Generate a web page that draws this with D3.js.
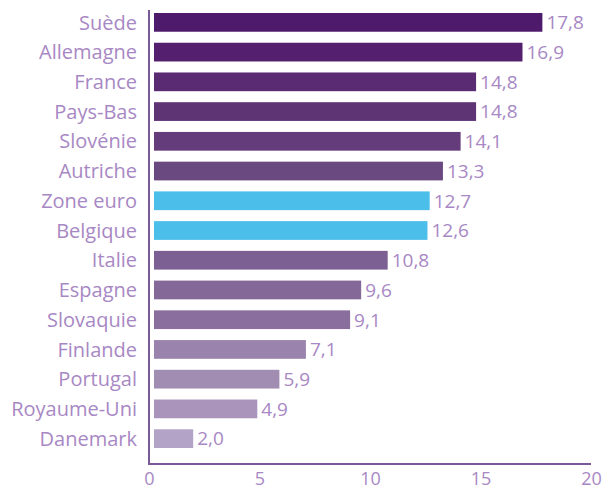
<!DOCTYPE html>
<html>
<head>
<meta charset="utf-8">
<script src="https://cdn.jsdelivr.net/npm/d3@7"></script>
<style>
  body { margin: 0; background: #fff; }
  text { font-family: "Open Sans", "Noto Sans", sans-serif; }
</style>
</head>
<body>
<script>
// Data
const countries = ["Suède", "Allemagne", "France", "Pays-Bas", "Slovénie", "Autriche", "Zone euro",
    "Belgique", "Italie", "Espagne", "Slovaquie", "Finlande", "Portugal", "Royaume-Uni", "Danemark"];
const values = [17.8, 16.9, 14.8, 14.8, 14.1, 13.3, 12.7, 12.6, 10.8, 9.6, 9.1, 7.1, 5.9, 4.9, 2.0];
const barColors = ["#4e1a6b", "#531f6e", "#5a2a73", "#5e3475", "#643c7c", "#6a4880", "#4bbeea",
    "#4bbeea", "#7d6093", "#846898", "#8a6f9e", "#9a84ae", "#a18cb2", "#aa94bc", "#b3a3c6"];
const xTicks = [0, 5, 10, 15, 20];

const width = 603, height = 490,
    textColor = "#a888c4",
    axisColor = "#7a5a96";

const svg = d3.select("body").append("svg")
    .attr("width", width)
    .attr("height", height);

// Scales
const x = d3.scaleLinear().domain([0, 20]).range([149, 591]);
const y = d3.scaleBand().domain(countries).range([13, 448]).paddingInner(0.37).paddingOuter(0);

// Bars
svg.selectAll("rect.bar")
    .data(countries)
    .enter()
    .append("rect")
    .attr("class", "bar")
    .attr("x", x(0) + 5)
    .attr("y", d => y(d))
    .attr("width", (d, i) => x(values[i]) - x(0) - 5)
    .attr("height", y.bandwidth())
    .attr("fill", (d, i) => barColors[i]);

// Value labels
svg.selectAll("text.val")
    .data(countries)
    .enter()
    .append("text")
    .attr("class", "val")
    .attr("x", (d, i) => x(values[i]) + 4)
    .attr("y", d => y(d) + y.bandwidth() / 2)
    .attr("dy", "0.36em")
    .attr("font-size", 19)
    .attr("fill", textColor)
    .text((d, i) => d3.format(".1f")(values[i]).replace(".", ","));

// Category labels
svg.selectAll("text.cat")
    .data(countries)
    .enter()
    .append("text")
    .attr("class", "cat")
    .attr("x", 137)
    .attr("y", d => y(d) + y.bandwidth() / 2)
    .attr("dy", "0.36em")
    .attr("text-anchor", "end")
    .attr("font-size", 20)
    .attr("fill", textColor)
    .text(d => d);

// Axis lines
svg.append("path")
    .attr("d", `M${x(0)},10V464H${x(20)}`)
    .attr("fill", "none")
    .attr("stroke", axisColor)
    .attr("stroke-width", 2);

// X tick labels
const xAxis = d3.axisBottom(x).tickValues(xTicks).tickSize(0).tickPadding(0);
const xAxisGroup = svg.append("g")
    .attr("transform", "translate(0,472)")
    .call(xAxis);
xAxisGroup.select(".domain").remove();
xAxisGroup.selectAll("text")
    .attr("font-family", "'Open Sans', 'Noto Sans', sans-serif")
    .attr("font-size", 18)
    .attr("fill", textColor);
</script>
</body>
</html>
